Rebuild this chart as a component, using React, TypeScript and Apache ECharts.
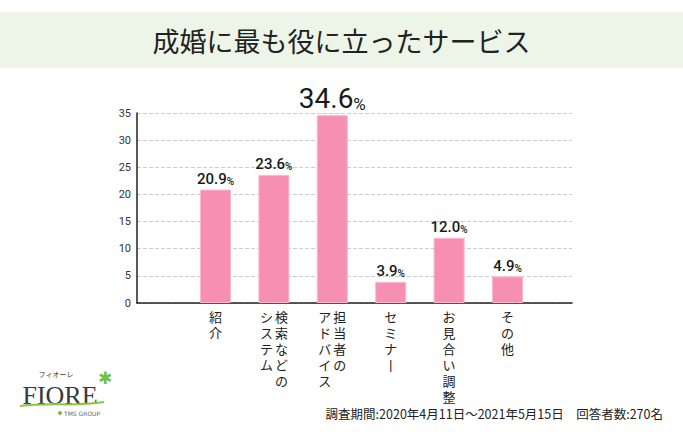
import React, { useEffect, useRef } from "react";
import * as echarts from "echarts";

const titleText = "成婚に最も役に立ったサービス";
// vertical label columns: first column is the rightmost (Japanese vertical writing)
const categoryColumns: string[][] = [
  ["紹介"],
  ["検索などの", "システム"],
  ["担当者の", "アドバイス"],
  ["セミナー"],
  ["お見合い調整"],
  ["その他"],
];
const categories = categoryColumns.map((c) => c.join(""));
const values = [20.9, 23.6, 34.6, 3.9, 12.0, 4.9];
const yTicks = [0, 5, 10, 15, 20, 25, 30, 35];
const footerText = "調査期間:2020年4月11日～2021年5月15日　回答者数:270名";

const JP = '"Noto Sans CJK JP", "Noto Sans", sans-serif';
const NUM = 'Roboto, "Noto Sans", sans-serif';

function verticalChar(ch: string) {
  return ch === "ー" ? "丨" : ch;
}

export default function App() {
  const ref = useRef<HTMLDivElement>(null);
  useEffect(() => {
    document.body.style.margin = "0";
    if (!ref.current) return;
    const chart = echarts.init(ref.current, null, { renderer: "svg" });
    const maxIdx = values.indexOf(Math.max(...values));

    const labelFormatter = (val: string) => {
      const idx = categories.indexOf(val);
      const cols = categoryColumns[idx] || [val];
      const rows = Math.max(...cols.map((c) => c.length));
      const lines: string[] = [];
      for (let i = 0; i < rows; i++) {
        let line = "";
        for (let c = cols.length - 1; c >= 0; c--) {
          const ch = cols[c][i];
          line += `{c|${ch ? verticalChar(ch) : "\u3000"}}`;
        }
        lines.push(line);
      }
      return lines.join("\n");
    };

    const gridTop = 113;
    const gridBottom = 133;

    chart.setOption({
      animation: false,
      backgroundColor: "#ffffff",
      title: {
        text: titleText,
        left: "center",
        top: 26,
        padding: 0,
        textStyle: {
          fontFamily: JP,
          fontSize: 27,
          fontWeight: 400,
          color: "#222222",
          lineHeight: 28,
        },
      },
      grid: [
        { left: 137, right: 111, top: gridTop, bottom: gridBottom },
        { left: 186.3, right: 146.3, top: gridTop, bottom: gridBottom },
      ],
      xAxis: [
        {
          type: "value",
          gridIndex: 0,
          min: 0,
          max: 1,
          axisLine: { show: true, lineStyle: { color: "#222", width: 1.5 } },
          axisTick: { show: false },
          axisLabel: { show: false },
          splitLine: { show: false },
        },
        {
          type: "category",
          gridIndex: 1,
          data: categories,
          axisLine: { show: false },
          axisTick: { show: false },
          axisLabel: {
            interval: 0,
            margin: 5,
            formatter: labelFormatter,
            rich: {
              c: {
                width: 15,
                align: "center",
                fontSize: 13,
                lineHeight: 16,
                fontFamily: JP,
                color: "#222",
              },
            },
          },
        },
      ],
      yAxis: [
        {
          type: "value",
          gridIndex: 0,
          min: yTicks[0],
          max: yTicks[yTicks.length - 1],
          interval: 5,
          axisLine: { show: true, lineStyle: { color: "#222", width: 1.5 } },
          axisTick: { show: false },
          axisLabel: {
            margin: 6,
            fontFamily: NUM,
            fontSize: 11,
            color: "#333",
          },
          splitLine: {
            show: true,
            lineStyle: { color: "#cccccc", type: [4, 2], width: 1 },
          },
        },
        {
          type: "value",
          gridIndex: 1,
          min: yTicks[0],
          max: yTicks[yTicks.length - 1],
          interval: 5,
          show: false,
          splitLine: { show: false },
        },
      ],
      series: [
        {
          type: "bar",
          xAxisIndex: 1,
          yAxisIndex: 1,
          barWidth: 31,
          data: values.map((v) => v),
          itemStyle: {
            color: "#f78fb3",
            borderColor: "#fab8cf",
            borderWidth: 1,
          },
          label: {
            show: true,
            position: "top",
            distance: 3,
            formatter: (p: any) =>
              p.dataIndex === maxIdx
                ? `{N|${Number(p.value).toFixed(1)}}{P|%}`
                : `{n|${Number(p.value).toFixed(1)}}{p|%}`,
            rich: {
              n: {
                fontFamily: NUM,
                fontSize: 15,
                fontWeight: 500,
                color: "#1a1a1a",
                verticalAlign: "bottom",
                lineHeight: 16,
              },
              p: {
                fontFamily: NUM,
                fontSize: 10,
                fontWeight: 500,
                color: "#1a1a1a",
                verticalAlign: "bottom",
                lineHeight: 16,
              },
              N: {
                fontFamily: NUM,
                fontSize: 28,
                fontWeight: 400,
                color: "#1a1a1a",
                verticalAlign: "bottom",
                lineHeight: 28,
              },
              P: {
                fontFamily: NUM,
                fontSize: 17,
                fontWeight: 400,
                color: "#1a1a1a",
                verticalAlign: "bottom",
                lineHeight: 28,
              },
            },
          },
        },
      ],
      graphic: [
        {
          type: "rect",
          z: -10,
          shape: { x: 0, y: 12, width: 683, height: 56 },
          style: { fill: "#edf5e9" },
          silent: true,
        },
        {
          type: "text",
          x: 663,
          y: 413,
          style: {
            text: footerText,
            font: `12.5px ${JP}`,
            fill: "#222",
            textAlign: "right",
            textVerticalAlign: "middle",
          },
        },
        // logo
        {
          type: "text",
          x: 56,
          y: 374,
          style: {
            text: "フィオーレ",
            font: `7px ${JP}`,
            fill: "#333",
            textAlign: "center",
            textVerticalAlign: "middle",
          },
        },
        {
          type: "text",
          x: 60,
          y: 395,
          style: {
            text: "FIORE",
            font: '26px "Liberation Serif", serif',
            fill: "#3a3a3a",
            textAlign: "center",
            textVerticalAlign: "middle",
          },
        },
        {
          type: "text",
          x: 105,
          y: 378,
          style: {
            text: "✱",
            font: '17px "DejaVu Sans", sans-serif',
            fill: "#74c043",
            textAlign: "center",
            textVerticalAlign: "middle",
          },
        },
        {
          type: "bezierCurve",
          shape: { x1: 20, y1: 406, x2: 104, y2: 402, cpx1: 50, cpy1: 402, cpx2: 75, cpy2: 407 },
          style: { stroke: "#8cc63f", lineWidth: 2, fill: null },
        },
        {
          type: "circle",
          shape: { cx: 60, cy: 413, r: 2 },
          style: { fill: "#74c043" },
        },
        {
          type: "text",
          x: 64,
          y: 413,
          style: {
            text: "TMS GROUP",
            font: '6px "DejaVu Sans", sans-serif',
            fill: "#666",
            textAlign: "left",
            textVerticalAlign: "middle",
          },
        },
      ],
    });
    return () => chart.dispose();
  }, []);
  return <div ref={ref} style={{ width: 683, height: 436 }} />;
}
